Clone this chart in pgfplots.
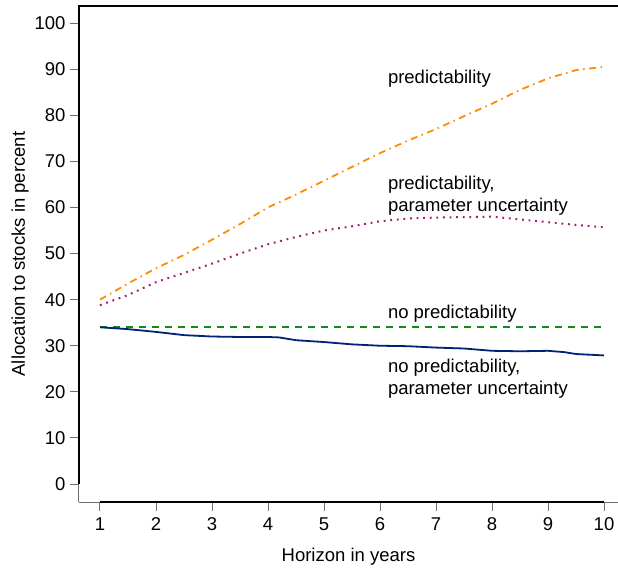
\documentclass[border=0pt]{standalone}
\usepackage{fontspec}
\setmainfont{Liberation Sans}
\usepackage{pgfplots}
\pgfplotsset{compat=1.18}
\definecolor{corange}{RGB}{255,140,0}
\definecolor{cpurple}{RGB}{165,25,115}
\definecolor{cblue}{RGB}{0,35,120}
\definecolor{cgreen}{RGB}{20,140,20}
\definecolor{cbox}{RGB}{110,110,110}
\begin{document}
\begin{tikzpicture}
\begin{axis}[
  scale only axis,
  width=539pt, height=496pt,
  xmin=0.625, xmax=10.25,
  ymin=-3.9, ymax=103.7,
  axis x line=bottom, axis y line=left,
  axis line style={-, cbox, line width=1pt},
  xtick={1,...,10}, ytick={0,10,...,100},
  tick align=outside,
  major tick length=9pt,
  tick style={cbox, line width=1pt},
  xtick pos=bottom, ytick pos=left,
  /pgf/number format/assume math mode=true,
  tick label style={font=\fontsize{18.5}{22}\selectfont},
  yticklabel style={xshift=-1pt},
  xticklabel style={yshift=-3pt},
  xlabel={Horizon in years},
  ylabel={Allocation to stocks in percent},
  label style={font=\fontsize{18.5}{22}\selectfont},
  xlabel style={yshift=-11pt},
  ylabel style={yshift=-1pt},
  clip=false,
]
\draw[black, line width=1.8pt] ({axis cs:1,0}|-{rel axis cs:0,0}) -- ({axis cs:10,0}|-{rel axis cs:0,0});
\draw[black, line width=1.5pt] ({rel axis cs:0,0}|-{axis cs:1,0}) -- (rel axis cs:0,1) -- (rel axis cs:1,1);
\draw[cbox, line width=1pt] ({rel axis cs:0,0}|-{axis cs:1,-3.9}) -- ({rel axis cs:0,0}|-{axis cs:1,0});

\addplot[corange, line width=1.8pt, dash pattern=on 7pt off 4.5pt on 1.5pt off 4.5pt] coordinates {
(1,40)(1.5,43.5)(2,46.8)(2.5,49.7)(3,53)(3.5,56.4)(4,60)(4.5,62.8)(5,65.8)(5.5,68.8)(6,71.8)(6.5,74.5)(7,77)(7.5,79.8)(8,82.5)(8.5,85.5)(9,88)(9.5,89.8)(10,90.5)};
\addplot[cpurple, line width=2pt, dash pattern=on 1.8pt off 4.8pt] coordinates {
(1,38.8)(1.5,41)(2,43.8)(2.5,45.8)(3,47.8)(3.5,50)(4,52)(4.5,53.6)(5,55)(5.5,55.9)(6,57)(6.5,57.6)(7,57.8)(7.5,57.9)(8,58)(8.5,57.4)(9,56.8)(9.5,56.2)(10,55.7)};
\addplot[cgreen, line width=1.8pt, dash pattern=on 7pt off 6pt] coordinates {(1,34)(10,34)};
\addplot[cblue, line width=1.8pt] coordinates {
(1,34)(1.5,33.6)(2,33)(2.5,32.3)(3,32)(3.5,31.9)(4,31.9)(4.2,31.8)(4.5,31.2)(5,30.8)(5.5,30.3)(6,30)(6.5,29.9)(7,29.6)(7.5,29.4)(8,28.9)(8.5,28.8)(9,28.9)(9.3,28.6)(9.5,28.2)(10,27.9)};

\node[anchor=west, font=\fontsize{18.5}{22}\selectfont] at (axis cs:6.08,88.0) {predictability};
\node[anchor=west, align=left, font=\fontsize{18.5}{22}\selectfont] at (axis cs:6.08,62.5) {predictability,\\parameter uncertainty};
\node[anchor=west, font=\fontsize{18.5}{22}\selectfont] at (axis cs:6.08,37.0) {no predictability};
\node[anchor=west, align=left, font=\fontsize{18.5}{22}\selectfont] at (axis cs:6.08,22.8) {no predictability,\\parameter uncertainty};
\end{axis}
\pgfresetboundingbox
\path ([shift={(-79pt,-69pt)}]current axis.south west) rectangle ([shift={(0pt,6pt)}]current axis.north east);
\end{tikzpicture}
\end{document}
